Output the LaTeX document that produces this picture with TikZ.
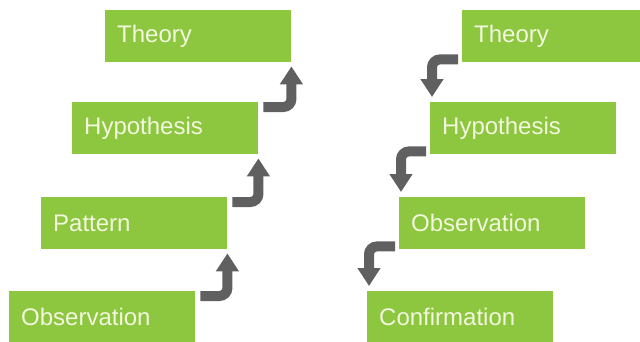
\documentclass[tikz,border=0pt]{standalone}
\usepackage{fontspec}
\setmainfont{Liberation Sans}
\usetikzlibrary{arrows.meta,calc}
\definecolor{leaf}{RGB}{141,198,63}
\definecolor{cream}{RGB}{242,247,222}
\definecolor{arrowgrey}{RGB}{96,96,96}
\tikzset{
  stepbox/.style={fill=leaf, draw=none, anchor=north west, minimum height=52pt,
    text width=162pt, inner xsep=12pt, inner ysep=0pt, align=left,
    text=cream, font=\fontsize{24}{28}\selectfont},
  elbowarrow/.style={draw=arrowgrey, line width=10pt, rounded corners=8pt,
    -{Triangle[width=22pt,length=18pt]}},
}
\begin{document}
\begin{tikzpicture}[x=1pt,y=1pt]
  \useasboundingbox (0,0) rectangle (640,-341);
  \begin{scope}
    \clip (0,0) rectangle (640,-341);
    % inductive ladder (bottom to top)
    \node[stepbox] (lthe) at (105,-10)  {Theory};
    \node[stepbox] (lhyp) at (72,-102)  {Hypothesis};
    \node[stepbox] (lpat) at (41,-197)  {Pattern};
    \node[stepbox] (lobs) at (9,-291)   {Observation};
    % deductive ladder (top to bottom)
    \node[stepbox] (rthe) at (462,-10)  {Theory};
    \node[stepbox] (rhyp) at (430,-102) {Hypothesis};
    \node[stepbox] (robs) at (399,-197) {Observation};
    \node[stepbox] (rcon) at (367,-291) {Confirmation};
  \end{scope}
  % upward elbows
  \foreach \lo/\hi in {lobs/lpat, lpat/lhyp, lhyp/lthe}{
    \draw[elbowarrow] ($(\lo.north east)+(5,-5)$) -| ($(\hi.south east)+(0,-4)$);
  }
  % downward elbows
  \foreach \hi/\lo in {rthe/rhyp, rhyp/robs, robs/rcon}{
    \draw[elbowarrow] ($(\hi.south west)+(-4,3)$) -| ($(\lo.north west)+(2,5)$);
  }
\end{tikzpicture}
\end{document}
